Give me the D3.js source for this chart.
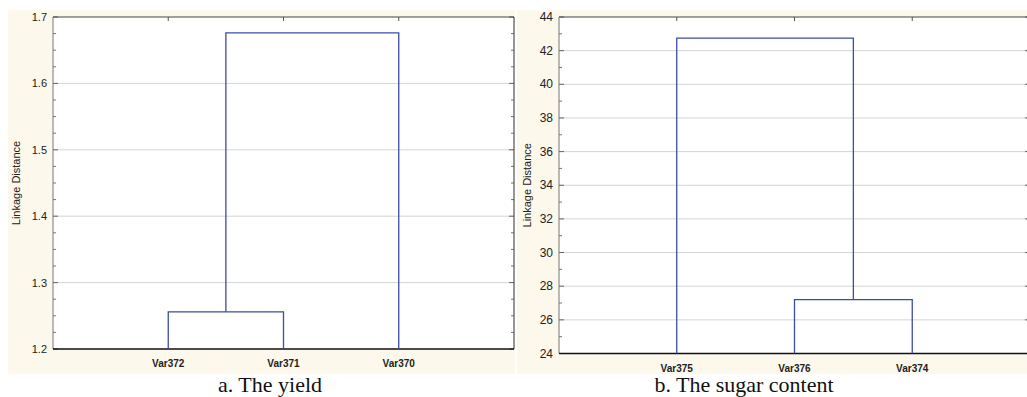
<!DOCTYPE html>
<html>
<head>
<meta charset="utf-8">
<script src="https://cdn.jsdelivr.net/npm/d3@7"></script>
<style>
  body { margin: 0; background: #fff; }
  svg { display: block; }
</style>
</head>
<body>
<script>
// Panel a: the yield
const yieldLabels = ['Var372', 'Var371', 'Var370'];
// merges: indexes < n are leaves, n + i is the cluster built at merge i
const yieldMerges = [[0, 1], [3, 2]];
const yieldHeights = [1.256, 1.676];
const yieldTicks = [1.2, 1.3, 1.4, 1.5, 1.6, 1.7];

// Panel b: the sugar content
const sugarLabels = ['Var375', 'Var376', 'Var374'];
const sugarMerges = [[1, 2], [0, 3]];
const sugarHeights = [27.2, 42.75];
const sugarTicks = [24, 26, 28, 30, 32, 34, 36, 38, 40, 42, 44];

const W = 1027, H = 397;
const BEIGE = '#fcf8ec';
const LINE = '#3b4ca6';

const svg = d3.select('body').append('svg')
  .attr('width', W)
  .attr('height', H);

function drawPanel(opt) {
  const g = svg.append('g');

  g.append('rect')
    .attr('x', opt.bg[0]).attr('y', 10)
    .attr('width', opt.bg[1] - opt.bg[0]).attr('height', 364)
    .attr('fill', BEIGE);

  g.append('rect')
    .attr('x', opt.left).attr('y', opt.top)
    .attr('width', opt.right - opt.left).attr('height', opt.bottom - opt.top)
    .attr('fill', '#fff');

  const x = d3.scalePoint().domain(opt.labels).range([opt.left, opt.right]).padding(1);
  const y = d3.scaleLinear().domain(opt.domain).range([opt.bottom, opt.top]);

  // grid lines
  g.selectAll('line.grid')
    .data(opt.ticks.slice(1, -1))
    .enter().append('line')
      .attr('class', 'grid')
      .attr('x1', opt.left).attr('x2', opt.right)
      .attr('y1', d => y(d)).attr('y2', d => y(d))
      .attr('stroke', '#d4d4d4');

  // minor ticks on left and right edges
  const minors = [];
  for (let i = 0; i < opt.ticks.length - 1; i++) {
    const a = opt.ticks[i], b = opt.ticks[i + 1];
    for (let k = 1; k <= opt.minorCount; k++) minors.push(a + (b - a) * k / (opt.minorCount + 1));
  }
  [[opt.left, 1], [opt.right, -1]].forEach(([ex, dir]) => {
    g.selectAll(null).data(minors).enter().append('line')
      .attr('x1', ex).attr('x2', ex + dir * 3)
      .attr('y1', d => y(d)).attr('y2', d => y(d))
      .attr('stroke', '#777');
    g.selectAll(null).data(opt.ticks).enter().append('line')
      .attr('x1', ex).attr('x2', ex + dir * 5)
      .attr('y1', d => y(d)).attr('y2', d => y(d))
      .attr('stroke', '#666');
  });

  // top ticks at leaf positions
  g.selectAll(null).data(opt.labels).enter().append('line')
    .attr('x1', d => x(d)).attr('x2', d => x(d))
    .attr('y1', opt.top).attr('y2', opt.top + 4)
    .attr('stroke', '#555');

  // frame
  g.append('line').attr('x1', opt.left).attr('x2', opt.right)
    .attr('y1', opt.top).attr('y2', opt.top).attr('stroke', '#444').attr('stroke-width', 1.2);
  g.append('line').attr('x1', opt.left).attr('x2', opt.left)
    .attr('y1', opt.top).attr('y2', opt.bottom).attr('stroke', '#777');
  g.append('line').attr('x1', opt.right).attr('x2', opt.right)
    .attr('y1', opt.top).attr('y2', opt.bottom).attr('stroke', '#333');
  g.append('line').attr('x1', opt.left).attr('x2', opt.right)
    .attr('y1', opt.bottom).attr('y2', opt.bottom).attr('stroke', '#111').attr('stroke-width', 1.5);

  // y tick labels
  g.selectAll('text.ytick')
    .data(opt.ticks)
    .enter().append('text')
      .attr('class', 'ytick')
      .attr('x', opt.left - 6)
      .attr('y', d => y(d) + 4)
      .attr('text-anchor', 'end')
      .attr('font-family', 'Liberation Sans, Arial, sans-serif')
      .attr('font-size', opt.tickSize)
      .attr('fill', '#222')
      .text(d => opt.format(d));

  // y axis title
  g.append('text')
    .attr('transform', `translate(${opt.titleX},${(opt.top + opt.bottom) / 2}) rotate(-90)`)
    .attr('text-anchor', 'middle')
    .attr('font-family', 'Liberation Sans, Arial, sans-serif')
    .attr('font-size', '11px')
    .attr('fill', '#222')
    .text('Linkage Distance');

  // x labels
  g.selectAll('text.xlab')
    .data(opt.labels)
    .enter().append('text')
      .attr('class', 'xlab')
      .attr('x', d => x(d))
      .attr('y', opt.bottom + 18)
      .attr('text-anchor', 'middle')
      .attr('font-family', 'Liberation Sans, Arial, sans-serif')
      .attr('font-size', '10px')
      .attr('font-weight', 'bold')
      .attr('fill', '#222')
      .text(d => d);

  // dendrogram links
  const n = opt.labels.length;
  const nodes = opt.labels.map(l => ({ x: x(l), h: opt.domain[0] }));
  const segs = [];
  opt.merges.forEach((m, i) => {
    const a = nodes[m[0]], b = nodes[m[1]], h = opt.heights[i];
    segs.push([[a.x, y(a.h)], [a.x, y(h)], [b.x, y(h)], [b.x, y(b.h)]]);
    nodes[n + i] = { x: (a.x + b.x) / 2, h: h };
  });
  g.selectAll('path.link')
    .data(segs)
    .enter().append('path')
      .attr('class', 'link')
      .attr('d', d => d3.line()(d))
      .attr('fill', 'none')
      .attr('stroke', LINE)
      .attr('stroke-width', 1.3);

  // caption
  g.append('text')
    .attr('x', opt.captionX)
    .attr('y', 392)
    .attr('text-anchor', 'middle')
    .attr('font-family', 'Liberation Serif, Times New Roman, serif')
    .attr('font-size', '22px')
    .attr('fill', '#111')
    .text(opt.caption);
}

drawPanel({
  labels: yieldLabels, merges: yieldMerges, heights: yieldHeights,
  ticks: yieldTicks, domain: [1.2, 1.7], minorCount: 3,
  format: d3.format('.1f'),
  bg: [8, 515], left: 53, right: 514, top: 17, bottom: 349,
  tickSize: '11px', titleX: 20, captionX: 270, caption: 'a. The yield'
});

drawPanel({
  labels: sugarLabels, merges: sugarMerges, heights: sugarHeights,
  ticks: sugarTicks, domain: [24, 44], minorCount: 1,
  format: d3.format('d'),
  bg: [517, 1027], left: 559, right: 1030, top: 17, bottom: 353.5,
  tickSize: '12px', titleX: 531, captionX: 744, caption: 'b. The sugar content'
});
</script>
</body>
</html>
